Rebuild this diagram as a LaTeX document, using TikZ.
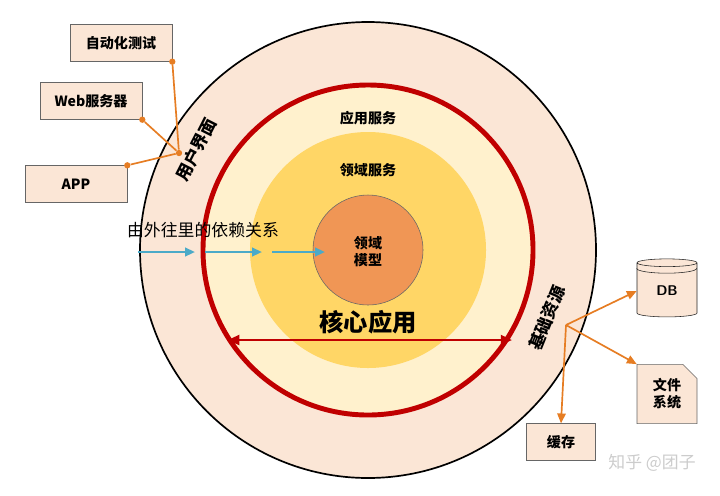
\documentclass[tikz,border=0pt]{standalone}
\usepackage{fontspec}
\newfontfamily\cjk{Noto Sans CJK SC}
\usetikzlibrary{shapes.geometric,shapes.misc,arrows.meta}
\definecolor{peach}{RGB}{251,230,214}
\definecolor{cream}{RGB}{255,241,205}
\definecolor{gold}{RGB}{255,214,102}
\definecolor{coreorange}{RGB}{240,150,85}
\definecolor{darkred}{RGB}{192,0,0}
\definecolor{linkorange}{RGB}{230,125,35}
\definecolor{flowblue}{RGB}{75,170,200}
\tikzset{
  box/.style={draw=gray!80!black,fill=peach,minimum width=2.55cm,minimum height=0.92cm,font=\cjk\bfseries},
  link/.style={linkorange,line width=1.2pt},
  dot/.style={circle,fill=linkorange,inner sep=0pt,minimum size=4.5pt},
  flow/.style={flowblue,line width=1.6pt,-{Triangle[length=7pt,width=6pt]}},
  title/.style={font=\cjk\bfseries}
}
\begin{document}
\begin{tikzpicture}[x=0.025cm,y=-0.025cm]
\useasboundingbox (0,0) rectangle (720,495);
% rings
\draw[line width=1.2pt,fill=peach] (368,250) circle (228);
\draw[darkred,line width=3.5pt,fill=cream] (368,250) circle (165);
\fill[gold] (368,250) circle (118);
\draw[black!60,fill=coreorange] (368,250) circle (55);
\node[title] (app) at (368,118) {应用服务};
\node[title] (dom) at (368,170) {领域服务};
\node[title,align=center] (core) at (368,252) {领域\\模型};
\node[font=\cjk\bfseries\LARGE] (kern) at (368,322) {核心应用};
\coordinate (kl) at (228,340);
\coordinate (kr) at (512,340);
\draw[darkred,line width=1.8pt,{Triangle[length=8pt,width=7pt]}-{Triangle[length=8pt,width=7pt]}] (kl) -- (kr);
\node[font=\cjk\bfseries\large,rotate=63] (ui) at (196,150) {用户界面};
\node[font=\cjk\bfseries\large,rotate=68] (res) at (547,318) {基础资源};
% dependency arrows
\node[font=\cjk\large] (dep) at (203,230) {由外往里的依赖关系};
\foreach \a/\b in {138/195,205/262,272/325}
  \draw[flow] (\a,252) -- (\b,252);
% clients
\node[box] (test) at (121,43) {自动化测试};
\node[box] (web) at (91,101) {Web服务器};
\node[box] (mob) at (76,184) {APP};
\coordinate (hub) at (179,153);
\node[dot] (d1) at (test.south east) {};
\node[dot] (d2) at (web.south east) {};
\node[dot] (d3) at (mob.north east) {};
\node[dot] (hd) at (hub) {};
\draw[link] (d1) -- (hd) (d2) -- (hd) (d3) -- (hd);
% resources
\node[cylinder,shape border rotate=90,draw=gray!30!black,fill=peach,aspect=0.25,minimum width=1.5cm,minimum height=1.45cm,font=\sffamily\bfseries] (db) at (667,291) {DB};
\draw[gray!30!black] ([yshift=-4pt]db.before top) arc[start angle=180,end angle=360,x radius=0.75cm,y radius=0.12cm];
\node[box,minimum width=1.5cm,minimum height=1.48cm,align=center,chamfered rectangle,chamfered rectangle corners=north east,chamfered rectangle xsep=5pt,chamfered rectangle ysep=5pt] (fs) at (667,394) {文件\\系统};
\node[box,minimum width=1.72cm] (cache) at (561,442) {缓存};
\coordinate (src) at (566,325);
\draw[link,-{Triangle[length=7pt,width=6pt]}] (src) -- (db.west);
\draw[link,-{Triangle[length=7pt,width=6pt]}] (src) -- (fs.north west);
\draw[link,-{Triangle[length=7pt,width=6pt]}] (src) -- (cache.north);
\node[font=\cjk\large,text=gray!40] (mark) at (652,463) {知乎 @团子};
\end{tikzpicture}
\end{document}
